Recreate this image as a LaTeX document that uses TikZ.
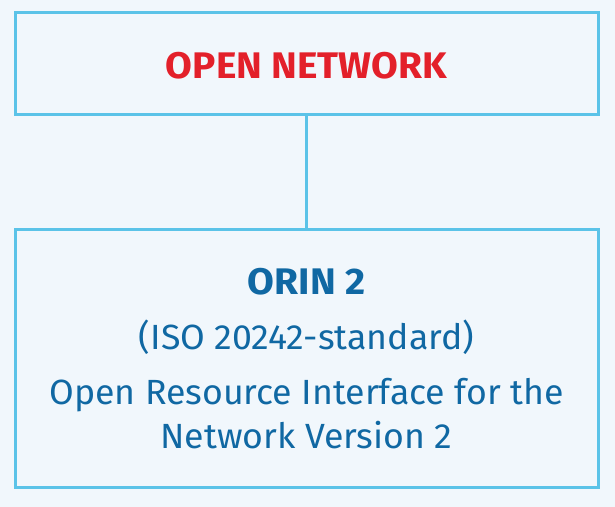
\documentclass[tikz,border=0pt]{standalone}
\usepackage{fontspec}
\setmainfont{Fira Sans}
\usetikzlibrary{positioning}
\definecolor{bgblue}{HTML}{F1F7FC}
\definecolor{edgeblue}{HTML}{5BC3E8}
\definecolor{netred}{HTML}{E3202A}
\definecolor{textblue}{HTML}{1068A3}
\tikzset{
  panel/.style={draw=edgeblue, line width=1.5pt, fill=bgblue, minimum width=291.5pt, inner sep=0pt},
  label/.style={text=textblue, font=\fontsize{17.5}{21}\selectfont, align=center, xscale=1.02}
}
\begin{document}
\begin{tikzpicture}[x=0.5pt, y=-0.5pt]

% ===== Background =====
\fill[bgblue] (0,0) rectangle (615,507);
\useasboundingbox (0,0) rectangle (615,507);

% ===== Boxes =====
\node[panel, minimum height=51pt] (net) at (306.5,64) {};
\node[panel, minimum height=128.5pt] (orin) at (306.5,358.5) {};

% ===== Connector =====
\draw[edgeblue, line width=1.5pt] (net.south) -- (orin.north);

% ===== Texts =====
\node[text=netred, font=\fontsize{18.5}{22}\selectfont\bfseries, xscale=1.05] (nettitle) at (306.5,66) {OPEN NETWORK};
\node[label, font=\fontsize{18.5}{22}\selectfont\bfseries, xscale=1.03] (orintitle) at (306.5,282) {ORIN 2};
\node[label] (iso) at (306.5,337) {(ISO 20242-standard)};
\node[label] (desc) at (306.5,414) {Open Resource Interface for the\\[1pt]Network Version 2};

\end{tikzpicture}
\end{document}
